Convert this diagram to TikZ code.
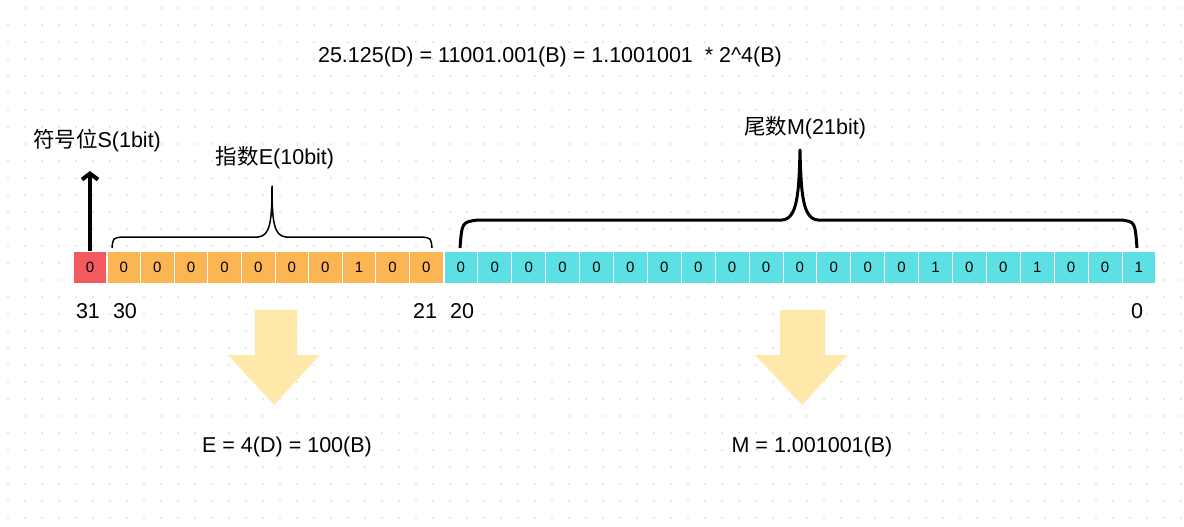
\documentclass[tikz,border=0pt]{standalone}
\usepackage{fontspec}
\setmainfont{Liberation Sans}
\newfontfamily\cjk{Noto Sans CJK SC}
\usetikzlibrary{arrows.meta}
\definecolor{signred}{HTML}{F25A5E}
\definecolor{exporange}{HTML}{FBB552}
\definecolor{mantcyan}{HTML}{5CE0E4}
\definecolor{downyellow}{HTML}{FFE9AA}
\begin{document}
\begin{tikzpicture}
    [   x=1pt, y=-1pt
    ,   bitcell/.style =
        {   draw=white
        ,   line width=0.8pt
        ,   minimum height=32pt
        ,   inner sep=0pt
        ,   font=\fontsize{15}{15}\selectfont
        }
    ,   label/.style =
        {   font=\fontsize{21.5}{21.5}\selectfont
        ,   inner sep=0pt
        }
    ]
    \useasboundingbox (0,0) rectangle (1184,527);
    %% dotted background
    \foreach\i in {0,...,69}
    {   \foreach\j in {0,...,30}
        {   \fill[black!18] (8+17*\i,8+17*\j) circle (0.9pt);
        }
    }

    %% formula
    \node[label] (formula) at (550,57) {25.125(D) = 11001.001(B) = 1.1001001 \ * 2\^{}4(B)};

    %% bit row
    \node[bitcell,fill=signred,minimum width=33.5pt] (S) at (90,267) {0};
    \foreach\b [count=\k from 0] in {0,0,0,0,0,0,0,1,0,0}
    {   \node[bitcell,fill=exporange,minimum width=33.6pt] (E\k) at (123.8+33.6*\k,267) {\b};
    }
    \foreach\b [count=\k from 0] in {0,0,0,0,0,0,0,0,0,0,0,0,0,0,1,0,0,1,0,0,1}
    {   \node[bitcell,fill=mantcyan,minimum width=33.9pt] (M\k) at (460.9+33.9*\k,267) {\b};
    }

    %% bit indices
    \node[label] (i31) at (88,311) {31};
    \node[label] (i30) at (125,311) {30};
    \node[label] (i21) at (425,311) {21};
    \node[label] (i20) at (462,311) {20};
    \node[label] (i0) at (1137,311) {0};

    %% sign
    \coordinate (Stip) at (90,171);
    \draw[line width=4pt,-{Straight Barb[length=6pt,width=16pt,line width=4pt]}] (S.center) ++(0,-16) -- (Stip);
    \node[label] (Slabel) at (97,141) {{\cjk 符号位}S(1bit)};

    %% exponent
    \draw[line width=1.5pt,line join=round]
        (112,248) .. controls (113,238) .. (122,237) -- (258,237)
        .. controls (270,236) and (272,222) .. (272,186)
        .. controls (272,222) and (274,236) .. (286,237) -- (422,237)
        .. controls (431,238) .. (432,248);
    \node[label] (Elabel) at (275,158) {{\cjk 指数}E(10bit)};

    %% mantissa
    \draw[line width=3pt,line join=round]
        (460,248) .. controls (462,222) .. (478,220) -- (782,220)
        .. controls (797,219) and (799,195) .. (800,150)
        .. controls (801,195) and (803,219) .. (818,220) -- (1122,220)
        .. controls (1135,222) .. (1137,248);
    \node[label] (Mlabel) at (805,128) {{\cjk 尾数}M(21bit)};

    %% results
    \fill[downyellow] (255,310) -- (297,310) -- (297,355) -- (320,355)
        -- (274,405) -- (228,355) -- (255,355) -- cycle;
    \fill[downyellow] (780,310) -- (825,310) -- (825,355) -- (848,355)
        -- (802,405) -- (755,355) -- (780,355) -- cycle;
    \node[label] (Eres) at (287,447) {E = 4(D) = 100(B)};
    \node[label] (Mres) at (812,447) {M = 1.001001(B)};
\end{tikzpicture}
\end{document}
